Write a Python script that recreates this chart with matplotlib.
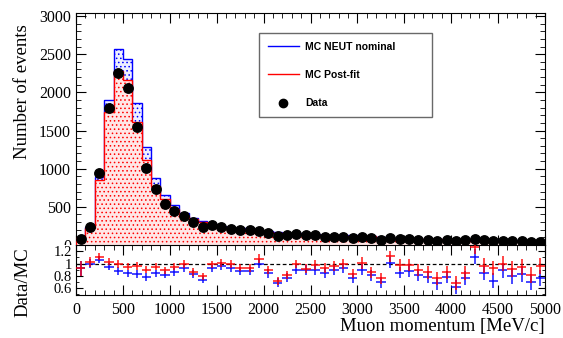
import numpy as np
import matplotlib
matplotlib.use("Agg")
import matplotlib.pyplot as plt
from matplotlib.ticker import MultipleLocator, FixedLocator, FixedFormatter
from matplotlib.lines import Line2D
from matplotlib.transforms import Bbox, TransformedBbox

# ---------------- data ----------------
bin_edges = list(range(0, 5001, 100))

data = [80, 236, 947, 1800, 2257, 2052, 1546, 1005, 734, 537,
        448, 382, 295, 235, 258, 240, 212, 192, 196, 180,
        158, 115, 125, 142, 125, 131, 108, 108, 109, 98,
        110, 96, 72, 96, 80, 78, 68, 66, 57, 60,
        52, 62, 80, 60, 50, 55, 48, 48, 40, 40]

mc_nominal = [87, 236, 893, 1895, 2565, 2443, 1863, 1288, 874, 655,
              521, 415, 355, 318, 280, 250, 230, 218, 223, 180,
              188, 167, 162, 158, 140, 147, 127, 121, 118, 127,
              122, 119, 103, 95, 94, 88, 83, 85, 84, 77,
              84, 81, 72, 71, 69, 62, 60, 58, 57, 52]

mc_postfit = [87, 229, 853, 1748, 2280, 2160, 1610, 1117, 773, 603,
              472, 386, 343, 297, 261, 238, 214, 206, 211, 167,
              176, 160, 154, 143, 136, 135, 117, 112, 110, 117,
              109, 112, 95, 86, 82, 80, 76, 77, 75, 70,
              76, 73, 63, 62, 54, 55, 53, 51, 49, 42]

ratio_err = [0.12, 0.08, 0.06, 0.06, 0.06, 0.06, 0.06, 0.06, 0.06, 0.06,
             0.06, 0.06, 0.06, 0.06, 0.06, 0.06, 0.06, 0.06, 0.06, 0.07,
             0.07, 0.07, 0.07, 0.07, 0.08, 0.08, 0.08, 0.08, 0.08, 0.08,
             0.09, 0.09, 0.09, 0.09, 0.09, 0.10, 0.10, 0.10, 0.10, 0.10,
             0.11, 0.11, 0.12, 0.12, 0.12, 0.12, 0.13, 0.13, 0.13, 0.13]

legend_labels = ["MC NEUT nominal", "MC Post-fit", "Data"]

# ---------------- derived ----------------
edges = np.array(bin_edges, dtype=float)
centers = 0.5 * (edges[:-1] + edges[1:])
halfw = 0.5 * np.diff(edges)
d = np.array(data, dtype=float)
mn = np.array(mc_nominal, dtype=float)
mp = np.array(mc_postfit, dtype=float)
r_nom = d / mn
r_post = d / mp
err = np.array(ratio_err)

serif = ["Liberation Serif", "DejaVu Serif"]
plt.rcParams["font.family"] = serif
plt.rcParams["hatch.linewidth"] = 0.6

W, H = 563, 338
fig = plt.figure(figsize=(W / 100, H / 100), dpi=100)

L, R = 76 / W, 545 / W
y_top, y_mid, y_bot = 13 / H, 245 / H, 295 / H
ax = fig.add_axes([L, 1 - y_mid, R - L, y_mid - y_top])
axr = fig.add_axes([L, 1 - y_bot, R - L, y_bot - y_mid])

# ---- upper panel ----
ax.stairs(mn, edges, fill=True, facecolor="#eef0ff", edgecolor="blue",
          hatch="....", lw=0, zorder=1)
ax.stairs(mn, edges, color="blue", lw=1.0, zorder=2)
ax.stairs(mp, edges, fill=True, facecolor="#ffe6e6", edgecolor="red",
          hatch="....", lw=0, zorder=3)
ax.stairs(mp, edges, color="red", lw=1.0, zorder=4)
ax.plot(centers, d, "o", color="black", ms=6.8, zorder=5)

ax.set_xlim(0, 5000)
ax.set_ylim(0, 3040)
ax.yaxis.set_major_locator(MultipleLocator(500))
ax.yaxis.set_minor_locator(MultipleLocator(100))
ax.xaxis.set_major_locator(MultipleLocator(500))
ax.xaxis.set_minor_locator(MultipleLocator(100))
ax.tick_params(axis="both", which="both", direction="in", top=True, right=True,
               labelsize=11.5)
ax.tick_params(axis="x", which="both", labelbottom=False)
ax.tick_params(which="major", length=7)
ax.tick_params(which="minor", length=3.5)
ax.set_ylabel("Number of events", fontsize=13.5)
ax.yaxis.set_label_coords(-0.095, 0.66)

# clip upper tick labels at the panel boundary (the "0" is half hidden)
clip = TransformedBbox(Bbox([[0, 1 - y_mid], [1, 1]]), fig.transFigure)
for t in ax.yaxis.get_major_ticks():
    t.label1.set_clip_box(clip)
    t.label1.set_clip_on(True)

handles = [Line2D([], [], color="blue", lw=1.0),
           Line2D([], [], color="red", lw=1.0),
           Line2D([], [], marker="o", color="black", ls="none", ms=6)]
leg = ax.legend(handles, legend_labels, loc="upper left",
                bbox_to_anchor=((259 - 76) / 469, (245 - 33) / 232, (432 - 259) / 469, 0.0),
                mode="expand", frameon=True, fancybox=False, edgecolor="#444444",
                prop={"family": ["Liberation Sans", "DejaVu Sans"], "weight": "bold", "size": 7.5},
                handlelength=3.0, handletextpad=0.6, labelspacing=1.75,
                borderpad=0.85, borderaxespad=0.0)
leg.get_frame().set_linewidth(1.0)

# ---- ratio panel ----
axr.errorbar(centers, r_nom, xerr=halfw, yerr=err, fmt="none", ecolor="blue",
             elinewidth=1.2, capsize=0, alpha=0.85, zorder=2)
axr.errorbar(centers, r_post, xerr=halfw, yerr=err, fmt="none", ecolor="red",
             elinewidth=1.2, capsize=0, alpha=0.85, zorder=3)
axr.axhline(1.0, color="black", ls=(0, (3, 2)), lw=0.9, zorder=1)
axr.set_xlim(0, 5000)
axr.set_ylim(0.49, 1.30)
axr.xaxis.set_major_locator(MultipleLocator(500))
axr.xaxis.set_minor_locator(MultipleLocator(100))
axr.yaxis.set_major_locator(FixedLocator([0.6, 0.8, 1.0, 1.2]))
axr.yaxis.set_major_formatter(FixedFormatter(["0.6", "0.8", "1", "1.2"]))
axr.yaxis.set_minor_locator(MultipleLocator(0.1))
axr.tick_params(axis="both", which="both", direction="in", top=True, right=True,
                labelsize=11.5)
axr.tick_params(axis="y", which="major", labelsize=10.5, pad=3)
axr.tick_params(axis="x", which="major", length=7, pad=5)
axr.tick_params(axis="x", which="minor", length=3.5)
axr.tick_params(axis="y", which="major", length=5)
axr.tick_params(axis="y", which="minor", length=2.5)
axr.set_ylabel("Data/MC", fontsize=13.5)
axr.yaxis.set_label_coords(-0.095, 0.26)
axr.set_xlabel("Muon momentum [MeV/c]", fontsize=13.5, ha="right")
axr.xaxis.set_label_coords(1.0, -0.46)

fig.savefig("out.png", dpi=100)
